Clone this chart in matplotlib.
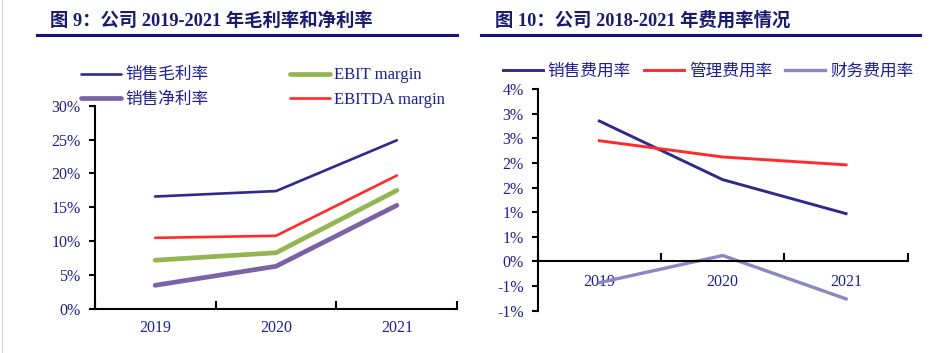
import math

import matplotlib
matplotlib.use('Agg')
import matplotlib.pyplot as plt
from matplotlib.lines import Line2D
from matplotlib.ticker import FuncFormatter, MultipleLocator

plt.rcParams['font.family'] = ['Liberation Serif', 'Noto Sans CJK SC']

NAVY = '#2e2a8c'
TEXT = '#1f1f96'
TITLE = '#1a1a6e'

# figure 9: margins
years9 = ['2019', '2020', '2021']
gross_margin = [16.6, 17.4, 24.9]
ebit_margin = [7.2, 8.3, 17.5]
net_margin = [3.5, 6.3, 15.3]
ebitda_margin = [10.5, 10.8, 19.7]

# figure 10: expense ratios
years10 = ['2019', '2020', '2021']
selling_ratio = [2.85, 1.66, 0.97]
admin_ratio = [2.45, 2.12, 1.96]
finance_ratio = [-0.43, 0.12, -0.76]

W, H = 934, 353
fig = plt.figure(figsize=(W / 100, H / 100), dpi=100)


def fx(px):
    return px / W


def fy(py):
    return 1 - py / H


# titles with underline
fig.text(fx(50), fy(21), '图 9：公司 2019-2021 年毛利率和净利率', fontsize=13.2,
         fontweight='bold', color=TITLE, va='center', ha='left')
fig.text(fx(495), fy(21), '图 10：公司 2018-2021 年费用率情况', fontsize=13.2,
         fontweight='bold', color=TITLE, va='center', ha='left')
fig.add_artist(Line2D([fx(37), fx(457)], [fy(35), fy(35)], color='#15157a', lw=2.2))
fig.add_artist(Line2D([fx(481), fx(920)], [fy(35), fy(35)], color='#15157a', lw=2.2))
fig.add_artist(Line2D([fx(2), fx(2)], [0, 1], color='#d0d0d0', lw=0.8))


def pct_round(v, pos):
    r = math.copysign(math.floor(abs(v) + 0.5 + 1e-9), v)
    return f'{int(r)}%'


def style_axes(ax):
    for s in ['top', 'right']:
        ax.spines[s].set_visible(False)
    for s in ['left', 'bottom']:
        ax.spines[s].set_linewidth(1.5)
        ax.spines[s].set_color('black')
    ax.tick_params(axis='y', direction='out', length=4, width=1.5,
                   labelsize=11.5, labelcolor=TEXT, pad=6)
    ax.tick_params(axis='x', which='major', direction='in', length=6, width=1.5,
                   labelbottom=False)
    ax.tick_params(axis='x', which='minor', length=0, labelsize=11.5, labelcolor=TEXT)


# ---- left chart
ax1 = fig.add_axes([fx(94.7), fy(309), fx(457.3 - 94.7), (309 - 105.7) / H])
x = [i + 0.5 for i in range(len(years9))]
ax1.plot(x, gross_margin, color=NAVY, lw=1.9, label='销售毛利率', solid_capstyle='round')
ax1.plot(x, net_margin, color='#7b62a6', lw=3.4, label='销售净利率', solid_capstyle='round')
ax1.plot(x, ebit_margin, color='#93b552', lw=3.4, label='EBIT margin', solid_capstyle='round')
ax1.plot(x, ebitda_margin, color='#ff2a2a', lw=1.9, label='EBITDA margin', solid_capstyle='round')
ax1.set_xlim(0, 3)
ax1.set_ylim(0, 30)
ax1.yaxis.set_major_locator(MultipleLocator(5))
ax1.yaxis.set_major_formatter(FuncFormatter(pct_round))
ax1.set_xticks(range(4))
ax1.set_xticks(x, minor=True)
ax1.set_xticklabels(years9, minor=True)
style_axes(ax1)
ax1.tick_params(axis='x', which='minor', pad=8)
leg1 = ax1.legend(ncol=2, loc='lower left', bbox_to_anchor=(-0.038, 0.99),
                  frameon=False, fontsize=12, handlelength=2.4, handletextpad=0.25,
                  columnspacing=4.9, labelspacing=0.5, borderaxespad=0, borderpad=0)
for t in leg1.get_texts():
    t.set_color(TEXT)

# ---- right chart
ax2 = fig.add_axes([fx(537.7), fy(310.7), fx(907.7 - 537.7), (310.7 - 89) / H])
x2 = [i + 0.5 for i in range(len(years10))]
ax2.plot(x2, selling_ratio, color=NAVY, lw=2.1, label='销售费用率')
ax2.plot(x2, admin_ratio, color='#ff2a2a', lw=2.1, label='管理费用率')
ax2.plot(x2, finance_ratio, color='#8c86c2', lw=2.4, label='财务费用率')
ax2.set_xlim(0, 3)
ax2.set_ylim(-1, 3.5)
ax2.yaxis.set_major_locator(MultipleLocator(0.5))
ax2.yaxis.set_major_formatter(FuncFormatter(pct_round))
ax2.set_xticks(range(4))
ax2.set_xticks(x2, minor=True)
ax2.set_xticklabels(years10, minor=True)
style_axes(ax2)
ax2.spines['bottom'].set_position(('data', 0))
ax2.tick_params(axis='x', which='minor', pad=9)
leg2 = ax2.legend(ncol=3, loc='lower left', bbox_to_anchor=(-0.095, 1.04),
                  frameon=False, fontsize=12, handlelength=2.4, handletextpad=0.3,
                  columnspacing=0.8, borderaxespad=0, borderpad=0)
for t in leg2.get_texts():
    t.set_color(TEXT)

fig.savefig('out.png', dpi=100)
